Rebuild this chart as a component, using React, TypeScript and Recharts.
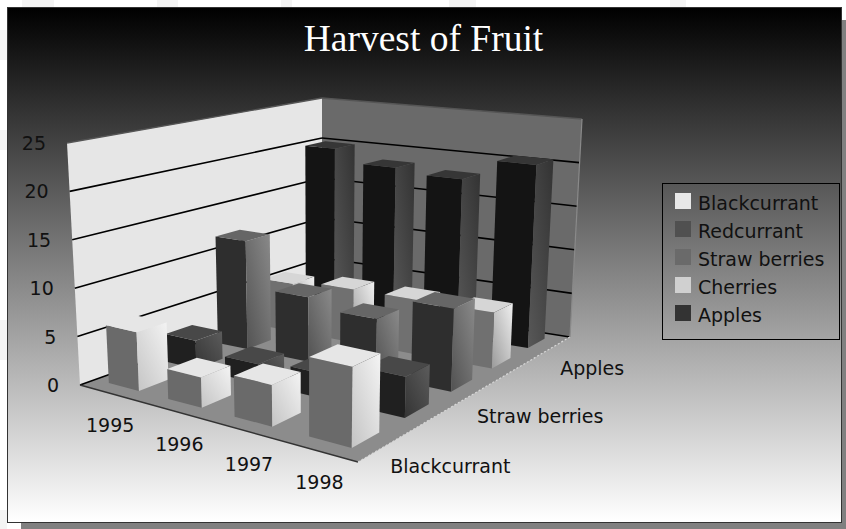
import { ScatterChart, Scatter, XAxis, YAxis, Legend } from 'recharts'

const years = ['1995', '1996', '1997', '1998']
const fruits = ['Blackcurrant', 'Redcurrant', 'Straw berries', 'Cherries', 'Apples']
const blackcurrant = [6, 3, 4, 7.5]
const redcurrant = [3, 2, 2.5, 4]
const strawberries = [12, 7, 6, 8.5]
const cherries = [5.5, 6, 6, 6]
const apples = [20, 18.5, 18, 20.5]
const seriesValues = [blackcurrant, redcurrant, strawberries, cherries, apples]
const valueTicks = [0, 5, 10, 15, 20, 25]
const depthLabels = ['Blackcurrant', 'Straw berries', 'Apples']

// nudges for the hand placed labels, same order as years / depthLabels
const yearShift = [[2, 32], [10, 34], [11, 35], [4, 32]]
const depthShift = [[4, 21], [-4, 26], [6, 22]]

// top, left face, right face from -> to, legend swatch
const shades = [
  { top: '#e6e6e6', left: '#6a6a6a', from: '#c4c4c4', to: '#f4f4f4', swatch: '#e8e8e8' },
  { top: '#484848', left: '#202020', from: '#343434', to: '#5c5c5c', swatch: '#505050' },
  { top: '#666666', left: '#2e2e2e', from: '#525252', to: '#8a8a8a', swatch: '#6a6a6a' },
  { top: '#d6d6d6', left: '#707070', from: '#9a9a9a', to: '#f0f0f0', swatch: '#d0d0d0' },
  { top: '#363636', left: '#141414', from: '#585858', to: '#333333', swatch: '#333333' }
]

const W = 846
const H = 529
const ZERO_Y = 385
const MAX_VALUE = 25
const PX_PER_VALUE = (ZERO_Y - 143) / MAX_VALUE

type Pt = [number, number]
// corners in order: near left, near right, far right, far left
const floorQuad: Pt[] = [[80, 385], [358, 462], [570, 337], [322, 298]]
const ceilQuad: Pt[] = [[67, 143], [361, 185], [582, 119], [322, 98]]

function warp(q: Pt[], u: number, v: number): Pt {
  const [p0, p1, p2, p3] = q
  const sx = p0[0] - p1[0] + p2[0] - p3[0]
  const sy = p0[1] - p1[1] + p2[1] - p3[1]
  const d1x = p1[0] - p2[0]
  const d1y = p1[1] - p2[1]
  const d2x = p3[0] - p2[0]
  const d2y = p3[1] - p2[1]
  const det = d1x * d2y - d2x * d1y
  const g = (sx * d2y - d2x * sy) / det
  const h = (d1x * sy - sx * d1y) / det
  const w = 1 + g * u + h * v
  return [
    ((p1[0] - p0[0] + g * p1[0]) * u + (p3[0] - p0[0] + h * p3[0]) * v + p0[0]) / w,
    ((p1[1] - p0[1] + g * p1[1]) * u + (p3[1] - p0[1] + h * p3[1]) * v + p0[1]) / w
  ]
}

function project(u: number, v: number, value: number): Pt {
  const a = warp(floorQuad, u, v)
  const b = warp(ceilQuad, u, v)
  const t = value / MAX_VALUE
  return [a[0] + (b[0] - a[0]) * t, a[1] + (b[1] - a[1]) * t]
}

// chart coordinates of a projected point: x axis runs in page units, y axis in value units
const toChart = (p: Pt) => ({ sx: p[0], sy: (ZERO_Y - p[1]) / PX_PER_VALUE })

const uCenter = (i: number) => (i + 0.5) / years.length
const vCenter = (j: number) => (j + 0.5) / fruits.length
const HALF_U = 0.065
const HALF_V = 0.05

const rows = fruits.map((name, j) =>
  years.map((year, i) => ({
    year,
    name,
    i,
    j,
    value: seriesValues[j][i],
    ...toChart(project(uCenter(i), vCenter(j), 0))
  }))
)

function poly(pts: Pt[], ox: number, oy: number) {
  return pts.map(p => `${p[0] + ox},${p[1] + oy}`).join(' ')
}

function Cuboid({ cx, cy, payload }: any) {
  const { i, j, value } = payload
  const uc = uCenter(i)
  const vc = vCenter(j)
  const base = project(uc, vc, 0)
  const ox = cx - base[0]
  const oy = cy - base[1]
  const u0 = uc - HALF_U
  const u1 = uc + HALF_U
  const v0 = vc - HALF_V
  const v1 = vc + HALF_V
  const s = shades[j]
  const id = `face-${j}-${i}`
  return (
    <g>
      <defs>
        <linearGradient id={id} x1="0" y1="1" x2="1" y2="0">
          <stop offset="0" stopColor={s.from} />
          <stop offset="1" stopColor={s.to} />
        </linearGradient>
      </defs>
      <polygon
        points={poly([project(u0, v0, 0), project(u1, v0, 0), project(u1, v0, value), project(u0, v0, value)], ox, oy)}
        fill={s.left}
      />
      <polygon
        points={poly([project(u1, v0, 0), project(u1, v1, 0), project(u1, v1, value), project(u1, v0, value)], ox, oy)}
        fill={`url(#${id})`}
      />
      <polygon
        points={poly([project(u0, v0, value), project(u1, v0, value), project(u1, v1, value), project(u0, v1, value)], ox, oy)}
        fill={s.top}
      />
    </g>
  )
}

function Walls({ cx, cy }: any) {
  const base = project(0, 0, 0)
  const ox = cx - base[0]
  const oy = cy - base[1]
  const seg = (a: Pt, b: Pt, key: string, stroke: string, width: number, dash?: string) => (
    <line
      key={key}
      x1={a[0] + ox}
      y1={a[1] + oy}
      x2={b[0] + ox}
      y2={b[1] + oy}
      stroke={stroke}
      strokeWidth={width}
      strokeDasharray={dash}
    />
  )
  return (
    <g>
      <polygon
        points={poly([project(0, 0, 0), project(0, 1, 0), project(0, 1, 25), project(0, 0, 25)], ox, oy)}
        fill="#e6e6e6"
      />
      <polygon
        points={poly([project(0, 1, 0), project(1, 1, 0), project(1, 1, 25), project(0, 1, 25)], ox, oy)}
        fill="#6a6a6a"
      />
      <polygon
        points={poly([project(0, 0, 0), project(1, 0, 0), project(1, 1, 0), project(0, 1, 0)], ox, oy)}
        fill="#8c8c8c"
      />
      {valueTicks.slice(0, 5).map(t => seg(project(0, 0, t), project(0, 1, t), `l${t}`, '#000', 1.6))}
      {valueTicks.slice(0, 5).map(t => seg(project(0, 1, t), project(1, 1, t), `r${t}`, '#000', 1.6))}
      {seg(project(0, 0, 25), project(0, 1, 25), 'lt', '#555', 1.4)}
      {seg(project(0, 1, 25), project(1, 1, 25), 'rt', '#555', 1.4)}
      {seg(project(1, 1, 25), project(1, 1, 0), 'rs', '#8a8a8a', 1.2)}
      {seg(project(0, 0, 0), project(1, 0, 0), 'ff', '#333', 1.4)}
      {seg(project(1, 0, 0), project(1, 1, 0), 'fr', '#d8d8d8', 1.2, '2 2')}
    </g>
  )
}

function AxisText({ cx, cy }: any) {
  const base = project(0, 0, 0)
  const ox = cx - base[0]
  const oy = cy - base[1]
  return (
    <g fontFamily="DejaVu Sans" fontSize={19} fill="#111">
      {years.map((y, i) => {
        const p = project(uCenter(i), 0, 0)
        return (
          <text
            key={y}
            x={p[0] + ox + yearShift[i][0]}
            y={p[1] + oy + yearShift[i][1]}
            textAnchor="middle"
            dominantBaseline="central"
          >
            {y}
          </text>
        )
      })}
      {depthLabels.map((name, k) => {
        const p = project(1, vCenter(fruits.indexOf(name)), 0)
        return (
          <text key={name} x={p[0] + ox + depthShift[k][0]} y={p[1] + oy + depthShift[k][1]} dominantBaseline="central">
            {name}
          </text>
        )
      })}
    </g>
  )
}

function ValueTick({ y, payload }: any) {
  const edge = project(0, 0, payload.value)
  return (
    <text x={edge[0] - 21} y={y} textAnchor="end" dominantBaseline="central" fontFamily="DejaVu Sans" fontSize={19} fill="#111">
      {payload.value}
    </text>
  )
}

function LegendBox() {
  return (
    <div
      style={{
        width: 176,
        height: 152,
        border: '1px solid #000',
        paddingTop: 3,
        fontFamily: 'DejaVu Sans',
        fontSize: 19,
        color: '#111'
      }}
    >
      {fruits.map((name, j) => (
        <div key={name} style={{ display: 'flex', alignItems: 'center', height: 28, paddingLeft: 12 }}>
          <span style={{ width: 16, height: 16, background: shades[j].swatch, marginRight: 7 }} />
          <span style={{ position: 'relative', top: 2 }}>{name}</span>
        </div>
      ))}
    </div>
  )
}

// faint page watermark showing in the margin round the panel
const watermarkTop = [[22, 32], [157, 21], [281, 11], [449, 27], [670, 16]]
const watermarkLeft = [[30, 30], [130, 20], [320, 40], [510, 19]]

export default function App() {
  const origin = toChart(project(0, 0, 0))
  const backToFront = [...rows].reverse()
  return (
    <div style={{ position: 'fixed', left: 0, top: 0, width: W, height: H, overflow: 'hidden', background: '#fff' }}>
      {watermarkTop.map(([x, w]) => (
        <div key={x} style={{ position: 'absolute', left: x, top: 0, width: w, height: 7, background: '#f4f4f4' }} />
      ))}
      {watermarkLeft.map(([y, h]) => (
        <div key={y} style={{ position: 'absolute', left: 0, top: y, width: 7, height: h, background: '#f4f4f4' }} />
      ))}
      <div
        style={{
          position: 'absolute',
          left: 7,
          top: 7,
          width: 833,
          height: 514,
          border: '1px solid #333',
          background: 'linear-gradient(to bottom, #000000, #ffffff)',
          boxShadow: '14px 13px 0 #808080'
        }}
      />
      <div
        style={{
          position: 'absolute',
          left: 7,
          top: 17,
          width: 833,
          textAlign: 'center',
          fontFamily: 'Liberation Serif',
          fontSize: 37.5,
          color: '#fff'
        }}
      >
        Harvest of Fruit
      </div>
      <div style={{ position: 'absolute', left: 0, top: 0 }}>
        <ScatterChart width={W} height={H} margin={{ top: 0, right: 0, bottom: 0, left: 0 }}>
          <XAxis type="number" dataKey="sx" domain={[0, W]} hide />
          <YAxis
            type="number"
            dataKey="sy"
            domain={[(ZERO_Y - H) / PX_PER_VALUE, ZERO_Y / PX_PER_VALUE]}
            ticks={valueTicks}
            mirror
            axisLine={false}
            tickLine={false}
            tick={<ValueTick />}
          />
          <Legend
            layout="vertical"
            align="center"
            verticalAlign="middle"
            content={<LegendBox />}
            wrapperStyle={{ left: 662, top: 183, width: 178 }}
          />
          <Scatter name="walls" data={[origin]} shape={<Walls />} isAnimationActive={false} legendType="none" />
          {backToFront.map(row => (
            <Scatter key={row[0].name} name={row[0].name} data={row} shape={<Cuboid />} isAnimationActive={false} />
          ))}
          <Scatter name="axis text" data={[origin]} shape={<AxisText />} isAnimationActive={false} legendType="none" />
        </ScatterChart>
      </div>
    </div>
  )
}
